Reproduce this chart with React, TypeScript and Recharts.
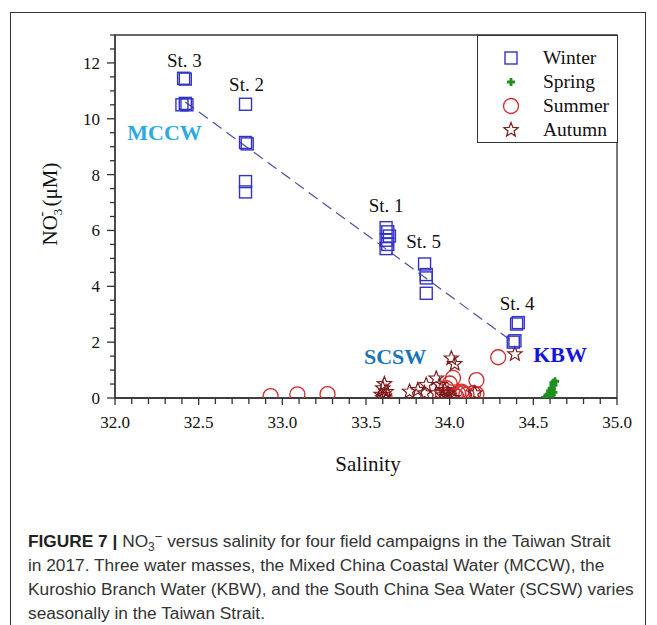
import React from 'react';
import { ScatterChart, Scatter, XAxis, YAxis, ReferenceLine, ReferenceArea, ReferenceDot } from 'recharts';

// ---------- data ----------
const winterPoints: [number, number][] = [
  [32.41, 11.45], [32.42, 11.42], [32.40, 10.5], [32.42, 10.55], [32.43, 10.5],
  [32.78, 10.52], [32.78, 9.15], [32.79, 9.1], [32.78, 7.75], [32.78, 7.38],
  [33.62, 6.1], [33.63, 5.95], [33.64, 5.8], [33.62, 5.65], [33.63, 5.5], [33.62, 5.35],
  [33.85, 4.8], [33.86, 4.42], [33.86, 4.3], [33.86, 3.75],
  [34.41, 2.7], [34.40, 2.65], [34.39, 2.05], [34.38, 2.0],
];
const springPoints: [number, number][] = [
  [34.57, 0.02], [34.58, 0.05], [34.59, 0.1], [34.6, 0.15], [34.6, 0.25], [34.61, 0.3],
  [34.61, 0.35], [34.62, 0.45], [34.62, 0.55], [34.63, 0.6], [34.59, 0.0], [34.6, 0.05],
  [34.61, 0.1], [34.62, 0.2],
];
const summerPoints: [number, number][] = [
  [32.93, 0.07], [33.09, 0.13], [33.27, 0.14], [33.61, 0.05], [34.29, 1.46], [34.02, 0.72],
  [34.16, 0.64], [34.0, 0.52], [33.98, 0.35], [34.07, 0.23], [34.05, 0.17], [34.08, 0.17],
  [34.14, 0.17], [34.16, 0.14], [34.03, 0.1], [34.0, 0.05], [33.96, 0.12], [34.1, 0.12], [34.04, 0.05],
];
const autumnPoints: [number, number][] = [
  [33.61, 0.5], [33.6, 0.35], [33.62, 0.22], [33.59, 0.12], [33.61, 0.05], [33.6, 0.0],
  [33.76, 0.23], [33.81, 0.29], [33.86, 0.47], [33.92, 0.7], [33.85, 0.17], [33.94, 0.47],
  [33.92, 0.17], [33.99, 0.17], [34.15, 0.17], [34.01, 1.42], [34.03, 1.22], [34.39, 1.57],
  [33.96, 0.1], [33.99, 0.05], [33.97, 0.29], [34.02, 0.0],
];
const trendLine: [number, number][] = [[32.42, 10.6], [34.38, 2.0]];

const stationLabels: { text: string; s: number; n: number }[] = [
  { text: 'St. 3', s: 32.415, n: 12.1 },
  { text: 'St. 2', s: 32.786, n: 11.21 },
  { text: 'St. 1', s: 33.62, n: 6.9 },
  { text: 'St. 5', s: 33.844, n: 5.6 },
  { text: 'St. 4', s: 34.403, n: 3.4 },
];
const waterMassLabels: { text: string; s: number; n: number; color: string }[] = [
  { text: 'MCCW', s: 32.296, n: 9.51, color: '#29abe2' },
  { text: 'SCSW', s: 33.674, n: 1.5, color: '#1b75bb' },
  { text: 'KBW', s: 34.66, n: 1.54, color: '#1414e0' },
];

const xMajorTicks = [32.0, 32.5, 33.0, 33.5, 34.0, 34.5, 35.0];
const xTicks = Array.from({ length: 31 }, (_, i) => Math.round((32 + i * 0.1) * 10) / 10);
const yTicks = Array.from({ length: 27 }, (_, i) => i * 0.5);
const yMajorTicks = [0, 2, 4, 6, 8, 10, 12];

const toData = (arr: [number, number][]) => arr.map(([s, n]) => ({ s, n }));

// ---------- styles ----------
const AX = '#333';
const SERIF = "'Liberation Serif', 'Times New Roman', serif";
const WINTER = '#3232c8';
const SPRING = '#1f8f1f';
const SUMMER = '#d22b2b';
const AUTUMN = '#7b1c1c';

const SquareShape = (p: any) => (
  <rect x={p.cx - 6} y={p.cy - 6} width={12} height={12} fill="none" stroke={WINTER} strokeWidth={1.4} />
);
const PlusShape = (p: any) => (
  <path d={`M${p.cx - 4},${p.cy}H${p.cx + 4}M${p.cx},${p.cy - 4}V${p.cy + 4}`} stroke={SPRING} strokeWidth={2.8} />
);
const CircleShape = (p: any) => (
  <circle cx={p.cx} cy={p.cy} r={7.5} fill="none" stroke={SUMMER} strokeWidth={1.3} />
);
const starPath = (cx: number, cy: number, ro: number, ri: number) => {
  const pts: string[] = [];
  for (let i = 0; i < 10; i++) {
    const r = i % 2 === 0 ? ro : ri;
    const a = -Math.PI / 2 + (i * Math.PI) / 5;
    pts.push(`${(cx + r * Math.cos(a)).toFixed(2)},${(cy + r * Math.sin(a)).toFixed(2)}`);
  }
  return 'M' + pts.join('L') + 'Z';
};
const StarShape = (p: any) => (
  <path d={starPath(p.cx, p.cy, 7.5, 3.2)} fill="none" stroke={AUTUMN} strokeWidth={1.2} />
);

const tickTextStyle: React.CSSProperties = { fontFamily: SERIF, fontSize: 17, fill: '#111' };

const XTick = (props: any) => {
  const { x, y, payload } = props;
  const v = payload.value;
  const major = xMajorTicks.some((m) => Math.abs(m - v) < 1e-6);
  return (
    <g>
      <line x1={x} x2={x} y1={y} y2={y + (major ? 7 : 6)} stroke={AX} strokeWidth={1.3} />
      {major && (
        <text x={x} y={y + 30} textAnchor="middle" fontFamily={SERIF} fontSize={17} style={tickTextStyle}>
          {v.toFixed(1)}
        </text>
      )}
    </g>
  );
};
const YTick = (props: any) => {
  const { x, y, payload } = props;
  const v = payload.value;
  const major = yMajorTicks.some((m) => Math.abs(m - v) < 1e-6);
  return (
    <g>
      <line x1={x} x2={x - (major ? 8 : 5)} y1={y} y2={y} stroke={AX} strokeWidth={1.3} />
      {major && (
        <text x={x - 15} y={y + 6} textAnchor="end" fontFamily={SERIF} fontSize={17} style={tickTextStyle}>
          {v}
        </text>
      )}
    </g>
  );
};

const textShape = (text: string, size: number, color: string, bold: boolean) => (p: any) => (
  <text
    x={p.cx}
    y={p.cy}
    textAnchor="middle"
    dominantBaseline="central"
    style={{ fontFamily: SERIF, fontSize: size, fontWeight: bold ? 'bold' : 'normal', fill: color }}
  >
    {text}
  </text>
);

const legendItems = [
  { name: 'Winter', Shape: SquareShape },
  { name: 'Spring', Shape: PlusShape },
  { name: 'Summer', Shape: CircleShape },
  { name: 'Autumn', Shape: StarShape },
];

const captionStyle: React.CSSProperties = {
  position: 'absolute',
  left: 28,
  fontFamily: "'Liberation Sans', Arial, sans-serif",
  fontSize: 17.3,
  color: '#333',
  whiteSpace: 'nowrap',
  lineHeight: '20px',
};

export default function App() {
  return (
    <div style={{ position: 'absolute', left: 0, top: 0, width: 657, height: 625, overflow: 'hidden', background: '#fff' }}>
      {/* outer frame */}
      <div
        style={{
          position: 'absolute',
          left: 10,
          top: 12,
          width: 636,
          height: 700,
          borderLeft: '1.5px solid #333',
          borderTop: '1.5px solid #333',
          borderRight: '1.5px solid #333',
          boxSizing: 'border-box',
        }}
      />
      <div style={{ position: 'absolute', left: 0, top: 0 }}>
        <ScatterChart width={657} height={500} margin={{ top: 35, right: 40, bottom: 42, left: 55 }}>
          <XAxis
            type="number"
            dataKey="s"
            domain={[32, 35]}
            ticks={xTicks}
            interval={0}
            tickSize={0}
            tickMargin={0}
            tick={(p: any) => <XTick {...p} />}
            height={60}
            axisLine={{ stroke: AX, strokeWidth: 1.3 }}
            allowDataOverflow
          />
          <YAxis
            type="number"
            dataKey="n"
            domain={[0, 13]}
            ticks={yTicks}
            interval={0}
            tickSize={0}
            tickMargin={0}
            tick={(p: any) => <YTick {...p} />}
            width={60}
            axisLine={{ stroke: AX, strokeWidth: 1.3 }}
            allowDataOverflow
          />
          <ReferenceArea x1={32} x2={35} y1={0} y2={13} fill="none" stroke={AX} strokeWidth={1.3} fillOpacity={0} />
          <ReferenceLine
            segment={[{ x: trendLine[0][0], y: trendLine[0][1] }, { x: trendLine[1][0], y: trendLine[1][1] }]}
            stroke="#4c4ca6"
            strokeWidth={1.2}
            strokeDasharray="11 6"
          />
          <Scatter name="Summer" data={toData(summerPoints)} shape={CircleShape} isAnimationActive={false} />
          <Scatter name="Autumn" data={toData(autumnPoints)} shape={StarShape} isAnimationActive={false} />
          <Scatter name="Spring" data={toData(springPoints)} shape={PlusShape} isAnimationActive={false} />
          <Scatter name="Winter" data={toData(winterPoints)} shape={SquareShape} isAnimationActive={false} />
          {stationLabels.map((l) => (
            <ReferenceDot key={l.text} x={l.s} y={l.n} r={0} shape={textShape(l.text, 19, '#111', false)} />
          ))}
          {waterMassLabels.map((l) => (
            <ReferenceDot key={l.text} x={l.s} y={l.n} r={0} shape={textShape(l.text, 22, l.color, true)} />
          ))}
        </ScatterChart>
      </div>

      {/* legend */}
      <div
        style={{
          position: 'absolute',
          left: 477,
          top: 35,
          width: 141,
          height: 108,
          border: '1.3px solid #333',
          boxSizing: 'border-box',
          background: '#fff',
        }}
      >
        {legendItems.map((it, i) => (
          <div key={it.name} style={{ position: 'absolute', left: 0, top: 10 + i * 24, height: 24, width: 140 }}>
            <svg width={30} height={24} style={{ position: 'absolute', left: 18, top: 0 }}>
              <it.Shape cx={15} cy={12} />
            </svg>
            <span
              style={{
                position: 'absolute',
                left: 65,
                top: 0,
                fontFamily: SERIF,
                fontSize: 19.5,
                lineHeight: '24px',
                color: '#111',
              }}
            >
              {it.name}
            </span>
          </div>
        ))}
      </div>

      {/* axis titles */}
      <svg width={657} height={500} style={{ position: 'absolute', left: 0, top: 0, pointerEvents: 'none' }}>
        <text x={368} y={471} textAnchor="middle" style={{ fontFamily: SERIF, fontSize: 21, fill: '#111' }}>
          Salinity
        </text>
        <text transform="translate(57,204) rotate(-90)" textAnchor="middle" style={{ fontFamily: SERIF, fontSize: 21, fill: '#111' }}>
          NO
          <tspan style={{ fontSize: 13 }} dy={5}>3</tspan>
          <tspan style={{ fontSize: 15 }} dx={-8} dy={-16}>-</tspan>
          <tspan dy={11}> (μM)</tspan>
        </text>
      </svg>

      {/* caption */}
      <div style={{ ...captionStyle, top: 531 }}>
        <b style={{ color: '#222' }}>FIGURE 7 |</b> NO
        <span style={{ fontSize: 12, position: 'relative', top: 4 }}>3</span>
        <span style={{ fontSize: 13, position: 'relative', top: -6 }}>−</span> versus salinity for four field campaigns in the Taiwan Strait
      </div>
      <div style={{ ...captionStyle, top: 555 }}>
        in 2017. Three water masses, the Mixed China Coastal Water (MCCW), the
      </div>
      <div style={{ ...captionStyle, top: 579 }}>
        Kuroshio Branch Water (KBW), and the South China Sea Water (SCSW) varies
      </div>
      <div style={{ ...captionStyle, top: 603 }}>seasonally in the Taiwan Strait.</div>
    </div>
  );
}
